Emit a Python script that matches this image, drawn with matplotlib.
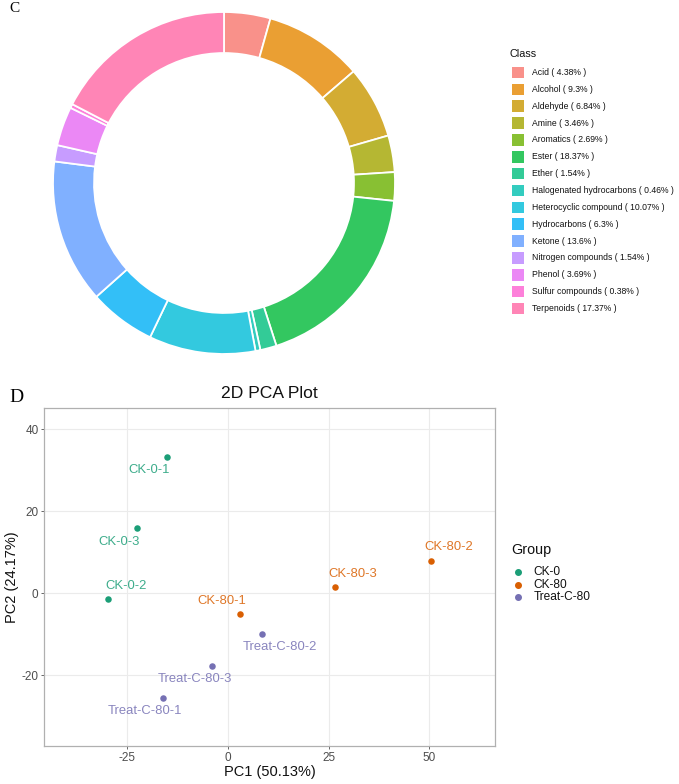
import matplotlib
matplotlib.use("Agg")
import matplotlib.pyplot as plt
from matplotlib.patches import Rectangle
from matplotlib.colors import to_rgba
from matplotlib.lines import Line2D

plt.rcParams['font.family'] = ['Liberation Sans', 'DejaVu Sans']
plt.rcParams['axes.unicode_minus'] = False

# ---------------- data ----------------
classes = ["Acid", "Alcohol", "Aldehyde", "Amine", "Aromatics", "Ester", "Ether",
           "Halogenated hydrocarbons", "Heterocyclic compound", "Hydrocarbons",
           "Ketone", "Nitrogen compounds", "Phenol", "Sulfur compounds", "Terpenoids"]
class_pct = [4.38, 9.3, 6.84, 3.46, 2.69, 18.37, 1.54, 0.46, 10.07, 6.3,
             13.6, 1.54, 3.69, 0.38, 17.37]
class_colors = ["#F8766D", "#E58700", "#C99800", "#A3A500", "#6BB100", "#00BA38",
                "#00BF7D", "#00C0AF", "#00BCD8", "#00B0F6", "#619CFF", "#B983FF",
                "#E76BF3", "#FD61D1", "#FF67A4"]

samples = ["CK-0-1", "CK-0-3", "CK-0-2", "CK-80-1", "CK-80-3", "CK-80-2",
           "Treat-C-80-2", "Treat-C-80-3", "Treat-C-80-1"]
sample_group = ["CK-0", "CK-0", "CK-0", "CK-80", "CK-80", "CK-80",
                "Treat-C-80", "Treat-C-80", "Treat-C-80"]
pc1 = [-15.1, -22.5, -29.7, 3.0, 26.6, 50.3, 8.4, -3.9, -16.2]
pc2 = [33.3, 16.0, -1.4, -5.0, 1.5, 8.0, -9.9, -17.7, -25.5]
groups = ["CK-0", "CK-80", "Treat-C-80"]
group_colors = ["#1B9E77", "#D95F02", "#7570B3"]
x_ticks = [-25, 0, 25, 50]
y_ticks = [-20, 0, 20, 40]

# label offsets (points) for repelled labels
label_offsets = [(-13, -9.6), (-13, -10), (12.7, 9.4), (-13.5, 9.6), (13, 9.6),
                 (13, 9.6), (13, -9.6), (-12.7, -9.6), (-12.7, -9.6)]

W, H = 679, 784
fig = plt.figure(figsize=(W / 100, H / 100), dpi=100)

def fx(px):
    return px / W

def fy(py):
    return 1 - py / H

# ---------------- donut ----------------
cx, cy, r = 224, 183, 171
ax1 = fig.add_axes([fx(cx - r), fy(cy + r), 2 * r / W, 2 * r / H])
fcols = [to_rgba(c, 0.8) for c in class_colors]
ax1.pie(class_pct, colors=fcols, startangle=90, counterclock=False, radius=1,
        wedgeprops=dict(width=0.24, edgecolor="white", linewidth=1.3))
ax1.set_xlim(-1, 1)
ax1.set_ylim(-1, 1)
ax1.set_aspect("equal")
ax1.axis("off")

# Class legend
fig.text(fx(509), fy(54), "Class", fontsize=7.8, va="center", ha="left", color="#111111")
y0, dy = 72.5, 16.86
for i, (c, p) in enumerate(zip(classes, class_pct)):
    yc = y0 + i * dy
    fig.add_artist(Rectangle((fx(512), fy(yc + 5.8)), 11.6 / W, 11.6 / H,
                             transform=fig.transFigure, facecolor=to_rgba(class_colors[i], 0.8),
                             edgecolor="none"))
    fig.text(fx(531.5), fy(yc), f"{c} ( {p}% )", fontsize=6.2, va="center", ha="left",
             color="#111111")

# ---------------- PCA ----------------
L, R, T, B = 44, 495, 408, 746
ax2 = fig.add_axes([fx(L), fy(B), (R - L) / W, (B - T) / H])
ax2.set_xlim(-45.7, 66.3)
ax2.set_ylim(-37.2, 45.2)
ax2.set_xticks(x_ticks)
ax2.set_yticks(y_ticks)
ax2.grid(True, color="#EBEBEB", linewidth=0.8)
ax2.set_axisbelow(True)
for s in ax2.spines.values():
    s.set_color("#B0B0B0")
    s.set_linewidth(0.9)
ax2.tick_params(colors="#4D4D4D", labelsize=8.5, length=2.5, width=0.6, pad=1.5)
for lab in ax2.get_xticklabels() + ax2.get_yticklabels():
    lab.set_color("#4D4D4D")

gcol = dict(zip(groups, group_colors))
for g in groups:
    xs = [x for x, gg in zip(pc1, sample_group) if gg == g]
    ys = [y for y, gg in zip(pc2, sample_group) if gg == g]
    ax2.scatter(xs, ys, s=22, color=gcol[g], zorder=3, linewidths=0)

for name, g, x, y, off in zip(samples, sample_group, pc1, pc2, label_offsets):
    ax2.annotate(name, (x, y), xytext=off, textcoords="offset points",
                 ha="center", va="center", fontsize=9.4, color=gcol[g], alpha=0.85)

ax2.set_xlabel("PC1 (50.13%)", fontsize=10.5, color="#111111")
ax2.set_ylabel("PC2 (24.17%)", fontsize=10.5, color="#111111")
ax2.xaxis.set_label_coords(0.5, (B - 772) / (B - T))
ax2.yaxis.set_label_coords((12 - L) / (R - L), 0.5)
ax2.xaxis.label.set_va("center")
ax2.yaxis.label.set_va("center")
fig.text(fx((L + R) / 2), fy(393), "2D PCA Plot", fontsize=12.6, ha="center", va="center",
         color="#111111")

# Group legend
fig.text(fx(511), fy(550), "Group", fontsize=10.4, ha="left", va="center", color="#111111")
for i, g in enumerate(groups):
    yc = 571.7 + i * 12.8
    fig.add_artist(Line2D([fx(518.3)], [fy(yc)], marker="o", markersize=4, color=gcol[g],
                          linestyle="none", transform=fig.transFigure))
    fig.text(fx(533.3), fy(yc), g, fontsize=8.6, ha="left", va="center", color="#111111")

# panel letters
fig.text(fx(14), fy(9), "C", fontsize=11, family=["Liberation Serif"], ha="center",
         va="center")
fig.text(fx(16), fy(397), "D", fontsize=14, family=["Liberation Serif"], ha="center",
         va="center")

fig.savefig("out.png", dpi=100)
